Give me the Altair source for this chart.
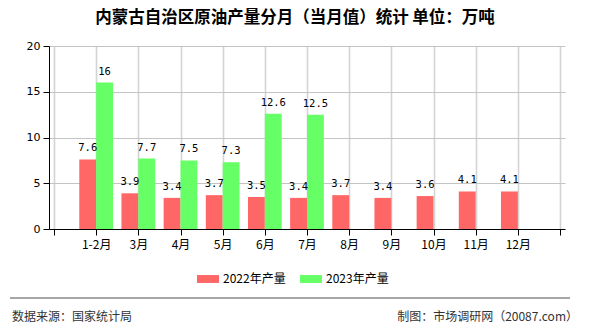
import altair as alt
import pandas as pd

title_text = "内蒙古自治区原油产量分月（当月值）统计  单位：万吨"
months = ["1-2月", "3月", "4月", "5月", "6月", "7月", "8月", "9月", "10月", "11月", "12月"]
v2022 = [7.6, 3.9, 3.4, 3.7, 3.5, 3.4, 3.7, 3.4, 3.6, 4.1, 4.1]
v2023 = [16, 7.7, 7.5, 7.3, 12.6, 12.5]
series = ["2022年产量", "2023年产量"]
colors = ["#ff6666", "#66ff66"]
footer_left = "数据来源：国家统计局"
footer_right = "制图：市场调研网（20087.com）"
x_ticks = list(range(13))
y_ticks = [0, 5, 10, 15, 20]

rows = []
for i, m in enumerate(months):
    rows.append({"idx": i + 1, "month": m, "series": series[0], "s": 0, "value": v2022[i]})
for i, v in enumerate(v2023):
    rows.append({"idx": i + 1, "month": months[i], "series": series[1], "s": 1, "value": v})
df = pd.DataFrame(rows)

label_map = "{" + ",".join(f"'{i+1}':'{m}'" for i, m in enumerate(months)) + "}"
label_expr = f"({label_map})[toString(datum.value)] || ''"

CJK = "Noto Sans CJK SC"

xscale = alt.Scale(domain=[0, 12], nice=False, zero=False)
yscale = alt.Scale(domain=[0, 20], nice=False)

xaxis = alt.Axis(
    values=x_ticks, labelExpr=label_expr, title=None,
    grid=True, gridColor="#d4d4d4", gridOpacity=1, gridWidth=1.6,
    domainColor="#000000", tickColor="#000000",
    tickSize=6, labelFont=CJK, labelFontSize=12, labelColor="#000000",
    labelPadding=4, labelFlush=False)
yaxis = alt.Axis(
    values=y_ticks, title=None, grid=True, gridColor="#c4c4c4",
    domainColor="#000000", tickColor="#000000", tickSize=6,
    labelFont="DejaVu Sans", labelFontSize=11, labelColor="#000000", labelPadding=3)

base = alt.Chart(df).transform_calculate(
    x0="datum.idx - 0.4 + 0.4 * datum.s",
    x1="datum.idx + 0.4 * datum.s",
    xc="datum.idx - 0.2 + 0.4 * datum.s",
)

bars = base.mark_bar(orient="vertical").encode(
    x=alt.X("x0:Q", scale=xscale, axis=xaxis),
    x2="x1:Q",
    y=alt.Y("value:Q", scale=yscale, axis=yaxis),
    y2=alt.datum(0),
    color=alt.Color("series:N", scale=alt.Scale(domain=series, range=colors),
                    legend=alt.Legend(
                        title=None, orient="none", direction="horizontal",
                        legendX=148, legendY=222, padding=0,
                        symbolType="M-1,-0.36L1,-0.36L1,0.36L-1,0.36Z",
                        symbolSize=484, symbolStrokeWidth=0, symbolOpacity=1,
                        labelFont=CJK, labelFontSize=12, labelColor="#000000",
                        labelOffset=4, columnPadding=14)),
)

labels = base.mark_text(baseline="bottom", dy=-6, font="DejaVu Sans Mono",
                        fontSize=10.5, color="#000000").encode(
    x=alt.X("xc:Q", scale=xscale, axis=xaxis),
    y=alt.Y("value:Q", scale=yscale, axis=yaxis),
    text=alt.Text("value:Q"),
)

line = alt.Chart(pd.DataFrame({"a": [0]})).mark_rule(color="#888888", strokeWidth=1.5).encode(
    x=alt.value(-39), x2=alt.value(521), y=alt.value(252))

fl = alt.Chart(pd.DataFrame({"t": [footer_left]})).mark_text(
    align="left", baseline="middle", font=CJK, fontSize=12, color="#333333").encode(
    x=alt.value(-37), y=alt.value(271), text="t:N")

fr = alt.Chart(pd.DataFrame({"t": [footer_right]})).mark_text(
    align="right", baseline="middle", font=CJK, fontSize=12, color="#333333").encode(
    x=alt.value(529), y=alt.value(271), text="t:N")

chart = alt.layer(bars, labels, line, fl, fr).properties(
    width=516, height=183,
    title=alt.TitleParams(title_text, anchor="middle", frame="group", dx=-12,
                          offset=14, font=CJK, fontSize=16.5, fontWeight="bold",
                          color="#000000"),
    autosize=alt.AutoSizeParams(type="none"),
    padding={"left": 49, "top": 46, "right": 25, "bottom": 101},
).configure_view(stroke=None)

chart.save("out.html", embed_options={"renderer": "svg", "actions": False})
